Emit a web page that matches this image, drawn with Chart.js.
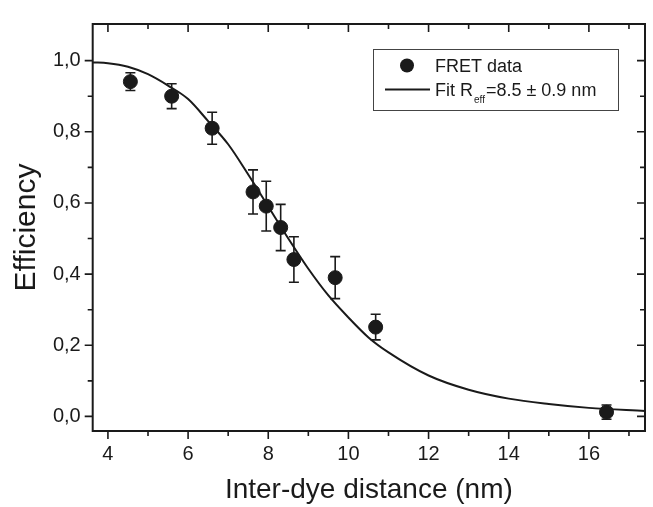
<!DOCTYPE html>
<html>
<head>
<meta charset="utf-8">
<script src="https://cdn.jsdelivr.net/npm/chart.js@4.4.1/dist/chart.umd.min.js"></script>
<style>
  html, body { margin: 0; padding: 0; background: #fff; }
  #wrap { width: 653px; height: 507px; position: relative; }
</style>
</head>
<body>
<div id="wrap"><canvas id="fretChart"></canvas></div>
<script>
// ── data ──
const dist = [4.56, 5.59, 6.60, 7.62, 7.95, 8.31, 8.64, 9.67, 10.68, 16.44];
const eff  = [0.941, 0.900, 0.810, 0.631, 0.591, 0.531, 0.441, 0.390, 0.251, 0.012];
const effErr = [0.025, 0.035, 0.045, 0.062, 0.070, 0.065, 0.064, 0.059, 0.036, 0.020];

// fit curve
const fitX = [3.62, 4, 4.5, 5, 5.5, 6, 6.5, 7, 7.5, 8, 8.5, 9, 9.5, 10, 10.5, 11, 12, 13, 14, 15, 16, 17.4];
const fitY = [0.995, 0.993, 0.983, 0.962, 0.930, 0.892, 0.830, 0.765, 0.680, 0.590, 0.500, 0.415, 0.340, 0.278, 0.222, 0.180, 0.115, 0.075, 0.050, 0.035, 0.024, 0.015];

const xTicks = [4, 6, 8, 10, 12, 14, 16];
const xMinor = [5, 7, 9, 11, 13, 15, 17];
const yTicks = [0, 0.2, 0.4, 0.6, 0.8, 1.0];
const yMinor = [0.1, 0.3, 0.5, 0.7, 0.9];

const FONT = "'Liberation Sans', Arial, sans-serif";
const INK = '#1a1a1a';

// error bars under the markers
const errorBars = {
  id: 'errorBars',
  beforeDatasetsDraw(chart) {
    const { ctx, scales: { x, y } } = chart;
    ctx.save();
    ctx.strokeStyle = INK;
    ctx.lineWidth = 1.6;
    dist.forEach((d, i) => {
      const px = x.getPixelForValue(d);
      const top = y.getPixelForValue(eff[i] + effErr[i]);
      const bot = y.getPixelForValue(eff[i] - effErr[i]);
      ctx.beginPath();
      ctx.moveTo(px, top); ctx.lineTo(px, bot);
      ctx.moveTo(px - 5, top); ctx.lineTo(px + 5, top);
      ctx.moveTo(px - 5, bot); ctx.lineTo(px + 5, bot);
      ctx.stroke();
    });
    ctx.restore();
  }
};

// box frame, origin-style tick marks, legend
const frame = {
  id: 'frame',
  afterDraw(chart) {
    const { ctx, chartArea: a, scales: { x, y } } = chart;
    ctx.save();
    ctx.strokeStyle = INK;
    ctx.lineWidth = 2;
    ctx.strokeRect(a.left, a.top, a.right - a.left, a.bottom - a.top);

    ctx.lineWidth = 1.6;
    ctx.beginPath();
    const xt = (vals, len) => vals.forEach(v => {
      const px = x.getPixelForValue(v);
      if (px < a.left || px > a.right) return;
      ctx.moveTo(px, a.bottom); ctx.lineTo(px, a.bottom + len);
      ctx.moveTo(px, a.top); ctx.lineTo(px, a.top + len);
    });
    const yt = (vals, len) => vals.forEach(v => {
      const py = y.getPixelForValue(v);
      ctx.moveTo(a.left, py); ctx.lineTo(a.left - len, py);
      ctx.moveTo(a.right, py); ctx.lineTo(a.right - len, py);
    });
    xt(xTicks, 8); xt(xMinor, 5);
    yt(yTicks, 8); yt(yMinor, 5);
    ctx.stroke();

    // legend
    const bx = 373, by = 49, bw = 245, bh = 61;
    ctx.lineWidth = 1;
    ctx.strokeStyle = '#444';
    ctx.strokeRect(bx + 0.5, by + 0.5, bw, bh);

    ctx.fillStyle = INK;
    ctx.beginPath();
    ctx.arc(407, 65.5, 7, 0, Math.PI * 2);
    ctx.fill();

    ctx.strokeStyle = INK;
    ctx.lineWidth = 2;
    ctx.beginPath();
    ctx.moveTo(385, 89.5); ctx.lineTo(430, 89.5);
    ctx.stroke();

    ctx.textBaseline = 'alphabetic';
    ctx.textAlign = 'left';
    ctx.font = '18px ' + FONT;
    ctx.fillText('FRET data', 435, 72);
    let tx = 435;
    ctx.fillText('Fit R', tx, 96);
    tx += ctx.measureText('Fit R').width;
    ctx.font = '10px ' + FONT;
    ctx.fillText('eff', tx + 1, 103);
    tx += ctx.measureText('eff').width + 2;
    ctx.font = '18px ' + FONT;
    ctx.fillText('=8.5 \u00b1 0.9 nm', tx, 96);
    ctx.restore();
  }
};

const chart = new Chart(document.getElementById('fretChart'), {
  type: 'scatter',
  data: {
    datasets: [{
      label: 'FRET data',
      data: dist.map((d, i) => ({ x: d, y: eff[i] })),
      backgroundColor: INK,
      borderColor: INK,
      pointRadius: 7,
      pointHoverRadius: 7,
      showLine: false,
      order: 1
    }, {
      label: 'Fit',
      type: 'line',
      data: fitX.map((d, i) => ({ x: d, y: fitY[i] })),
      borderColor: INK,
      borderWidth: 2,
      pointRadius: 0,
      fill: false,
      cubicInterpolationMode: 'monotone',
      order: 2
    }]
  },
  options: {
    responsive: true,
    maintainAspectRatio: false,
    animation: false,
    layout: { padding: { top: 15, right: 5, left: 0, bottom: 0 } },
    plugins: { legend: { display: false }, tooltip: { enabled: false } },
    scales: {
      x: {
        type: 'linear',
        min: 3.62,
        max: 17.4,
        afterBuildTicks: s => { s.ticks = xTicks.map(v => ({ value: v })); },
        afterFit: s => { s.height = 76; },
        grid: { display: false, drawTicks: false },
        border: { display: false },
        ticks: { color: INK, font: { family: FONT, size: 20 }, padding: 11, autoSkip: false, maxRotation: 0, callback: v => String(v) },
        title: { display: true, text: 'Inter-dye distance (nm)', color: INK, font: { family: FONT, size: 28 }, padding: { top: 0, bottom: 0 } }
      },
      y: {
        type: 'linear',
        min: -0.041,
        max: 1.103,
        afterBuildTicks: s => { s.ticks = yTicks.map(v => ({ value: v })); },
        afterFit: s => { s.width = 92.7; },
        grid: { display: false, drawTicks: false },
        border: { display: false },
        ticks: { color: INK, font: { family: FONT, size: 20 }, padding: 12, autoSkip: false, callback: v => v.toFixed(1).replace('.', ',') },
        title: { display: true, text: 'Efficiency', color: INK, font: { family: FONT, size: 30 }, padding: { top: 9, bottom: 0 } }
      }
    }
  },
  plugins: [errorBars, frame]
});
</script>
</body>
</html>
